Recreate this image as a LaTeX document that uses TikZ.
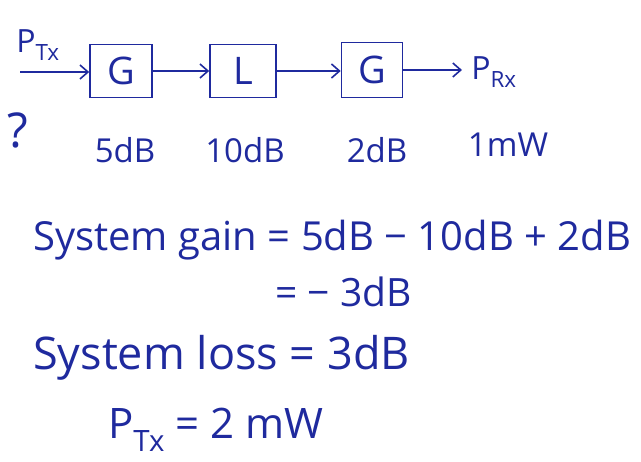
\documentclass[tikz,border=0pt]{standalone}
\usepackage{fontspec}
\setmainfont{Open Sans}
\usetikzlibrary{arrows.meta}
\definecolor{ink}{HTML}{1F2A9E}
\begin{document}
\begin{tikzpicture}[x=1pt,y=-1pt,
  every node/.style={text=ink, inner sep=0pt},
  blk/.style={draw=ink, line width=1.6pt, font=\fontsize{38}{38}\selectfont},
  conn/.style={draw=ink, line width=1.6pt, -{Straight Barb[length=8pt,width=14pt]}},
  lbl/.style={font=\fontsize{33}{33}\selectfont},
  eq/.style={anchor=west}]
\useasboundingbox (0,0) rectangle (641,462);
\fill[white] (0,0) rectangle (641,462);
\node[blk, minimum width=62pt, minimum height=53pt] (g1) at (121,71) {G};
\node[blk, minimum width=66pt, minimum height=53pt] (l) at (243,71) {L};
\node[blk, minimum width=61pt, minimum height=55pt] (g2) at (372,70) {G};
\coordinate (in) at (20,72);
\coordinate (out) at (462,70);
\draw[conn] (in) -- (g1.west |- in);
\draw[conn] (g1) -- (l);
\draw[conn] (l.east) -- (g2.west |- l.east);
\draw[conn] (g2.east |- out) -- (out);
\node[font=\fontsize{32}{32}\selectfont] (ptx) at (38,45) {P\textsubscript{Tx}};
\node[font=\fontsize{32}{32}\selectfont] (prx) at (494,72) {P\textsubscript{Rx}};
\node[font=\fontsize{48}{48}\selectfont] (q) at (18,130) {?};
\node[lbl] (l1) at (125,150) {5dB};
\node[lbl] (l2) at (245,150) {10dB};
\node[lbl] (l3) at (377,150) {2dB};
\node[lbl] (l4) at (508,145) {1mW};
\node[eq, font=\fontsize{40}{40}\selectfont] (e1) at (33,240) {System gain = 5dB − 10dB + 2dB};
\node[eq, font=\fontsize{39}{39}\selectfont] (e2) at (275,292) {= − 3dB};
\node[eq, font=\fontsize{45}{45}\selectfont] (e3) at (33,358) {System loss = 3dB};
\node[eq, font=\fontsize{42}{42}\selectfont] (e4) at (108,430) {P\textsubscript{Tx} = 2 mW};
\end{tikzpicture}
\end{document}
